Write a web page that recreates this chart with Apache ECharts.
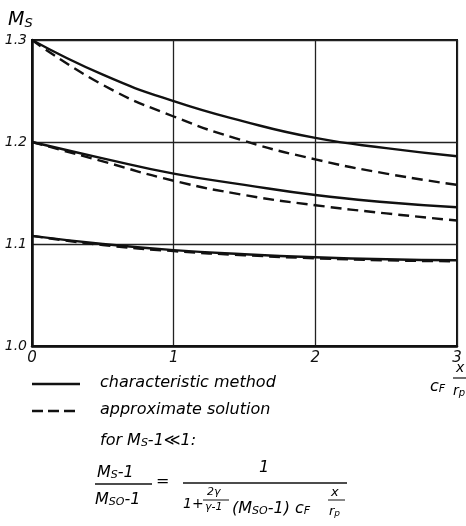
<!DOCTYPE html>
<html><head><meta charset="utf-8">
<script src="https://cdn.jsdelivr.net/npm/echarts@6/dist/echarts.min.js"></script>
<style>html,body{margin:0;padding:0;background:#fff}#c{width:466px;height:526px}</style>
</head><body><div id="c"></div>
<script>
// Data
const xs = [0, 0.5, 1, 1.5, 2, 2.5, 3];
const char13 = [1.300, 1.266, 1.240, 1.220, 1.204, 1.194, 1.186];
const appr13 = [1.300, 1.256, 1.225, 1.201, 1.183, 1.169, 1.158];
const char12 = [1.200, 1.184, 1.169, 1.158, 1.148, 1.141, 1.136];
const appr12 = [1.200, 1.181, 1.162, 1.148, 1.138, 1.130, 1.123];
const char11 = [1.108, 1.100, 1.094, 1.090, 1.087, 1.085, 1.084];
const appr11 = [1.108, 1.099, 1.093, 1.089, 1.086, 1.084, 1.083];
const xTicks = ['0', '1', '2', '3'];
const yTicks = ['1.0', '1.1', '1.2', '1.3'];
const legendNames = ['characteristic method', 'approximate solution'];

const FF = '"DejaVu Sans", sans-serif';
const pairs = ys => xs.map((x, i) => [x, ys[i]]);
const mkSeries = (ys, dashed, name) => ({
  type: 'line', name, data: pairs(ys), smooth: 0.5, symbol: 'none', silent: true,
  lineStyle: { color: '#111', width: 2.4, type: dashed ? [11, 6] : 'solid' }
});
const rich = (big, small) => ({
  m: { fontSize: big, fontStyle: 'italic', fontFamily: FF, color: '#111', lineHeight: big, verticalAlign: 'top' },
  s: { fontSize: small, fontStyle: 'italic', fontFamily: FF, color: '#111', lineHeight: small, padding: [Math.round(big * 0.6), 0, 0, 0], verticalAlign: 'bottom' }
});
const T = (x, y, str, big, small) => ({
  type: 'text', left: x, top: y, silent: true,
  style: { text: str, rich: rich(big, small || Math.round(big * 0.7)) }
});
const L = (x1, y1, x2, y2, w, dash) => ({
  type: 'line', silent: true,
  shape: { x1, y1, x2, y2 },
  style: { stroke: '#111', lineWidth: w, lineDash: dash || null }
});

const chart = echarts.init(document.getElementById('c'), null, { renderer: 'canvas' });
chart.setOption({
  animation: false,
  backgroundColor: '#fff',
  grid: { left: 32, right: 9, top: 40, bottom: 180, show: true, borderColor: '#111', borderWidth: 2, backgroundColor: 'transparent' },
  xAxis: {
    type: 'value', min: 0, max: 3, interval: 1,
    axisLine: { show: true, lineStyle: { color: '#111', width: 2.5 } },
    axisTick: { show: false },
    axisLabel: { formatter: v => xTicks[Math.round(v)], fontFamily: FF, fontStyle: 'italic', fontSize: 15, color: '#111', margin: 5 },
    splitLine: { show: true, lineStyle: { color: '#222', width: 1.3 } }
  },
  yAxis: {
    type: 'value', min: 1.0, max: 1.3, interval: 0.1,
    axisLine: { show: true, lineStyle: { color: '#111', width: 2.5 } },
    axisTick: { show: false },
    axisLabel: { formatter: v => yTicks[Math.round((v - 1) * 10)], fontFamily: FF, fontStyle: 'italic', fontSize: 14, color: '#111', margin: 5 },
    splitLine: { show: true, lineStyle: { color: '#222', width: 1.3 } }
  },
  series: [
    mkSeries(char13, false, legendNames[0]), mkSeries(appr13, true, legendNames[1]),
    mkSeries(char12, false, legendNames[0]), mkSeries(appr12, true, legendNames[1]),
    mkSeries(char11, false, legendNames[0]), mkSeries(appr11, true, legendNames[1])
  ],
  graphic: [
    T(8, 6, '{m|M}{s|S}', 19, 13),
    // x-axis title c_F x / r_p
    T(430, 374, '{m|c}{s|F}', 16, 11),
    T(456, 361, '{m|x}', 14),
    L(453, 378, 466, 378, 1.2),
    T(453, 380, '{m|r}{s|p}', 14, 10),
    // legend
    L(32, 384, 80, 384, 2.4),
    T(100, 375, '{m|' + legendNames[0] + '}', 16),
    L(32, 411, 80, 411, 2.4, [11, 5]),
    T(100, 402, '{m|' + legendNames[1] + '}', 16),
    T(100, 428, '{m|for M}{s|S}{m|-1≪1:}', 16, 11),
    // formula: left fraction
    T(97, 460, '{m|M}{s|S}{m|-1}', 16, 11),
    L(95, 484, 152, 484, 1.3),
    T(95, 487, '{m|M}{s|SO}{m|-1}', 16, 11),
    T(156, 474, '{m|=}', 16),
    // right fraction
    T(259, 460, '{m|1}', 16),
    L(183, 483, 347, 483, 1.3),
    T(183, 497, '{m|1+}', 14),
    T(207, 487, '{m|2γ}', 11),
    L(203, 500, 229, 500, 1),
    T(205, 502, '{m|γ-1}', 11),
    T(232, 496, '{m|(M}{s|SO}{m|-1) c}{s|F}', 16, 11),
    T(331, 486, '{m|x}', 13),
    L(328, 500, 345, 500, 1),
    T(329, 501, '{m|r}{s|p}', 13, 9)
  ]
});
</script></body></html>
